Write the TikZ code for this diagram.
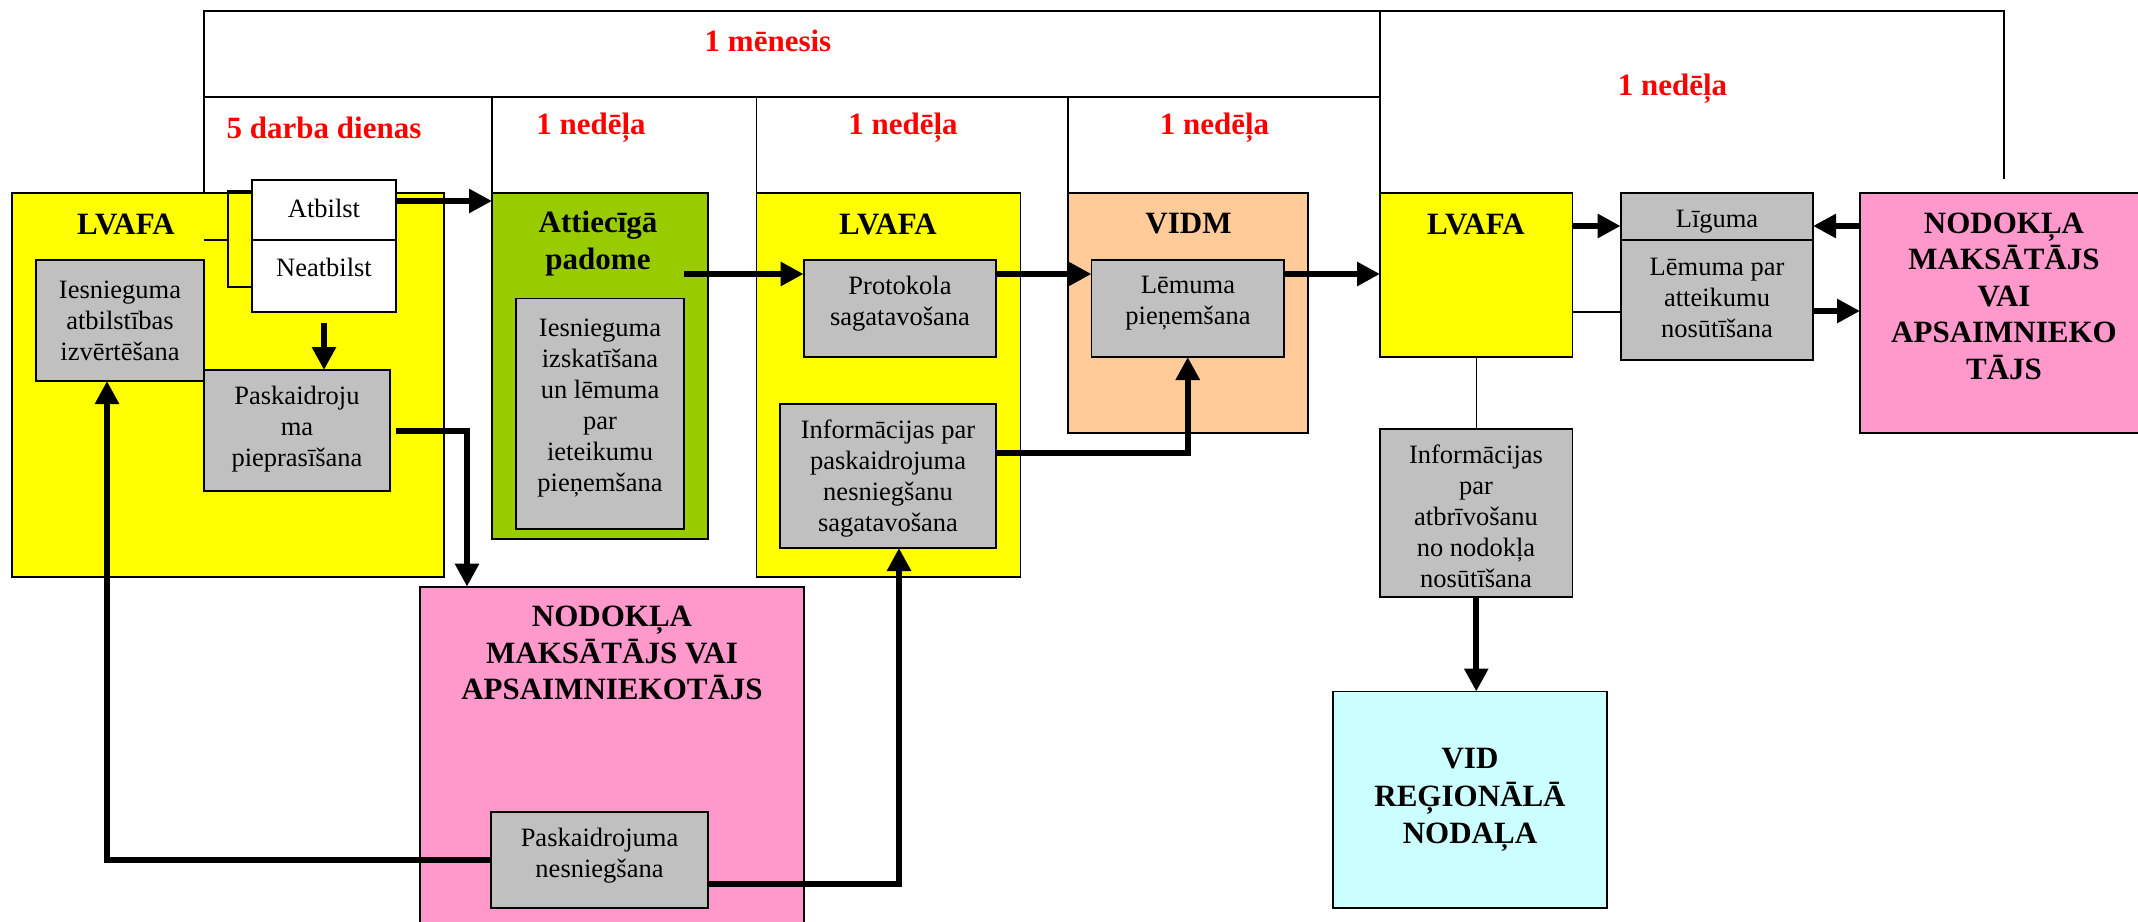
\documentclass[tikz,border=0pt]{standalone}
\usepackage{fontspec}
\setmainfont{Liberation Serif}
\usetikzlibrary{arrows.meta}
\definecolor{cyel}{HTML}{FFFF00}
\definecolor{cgreen}{HTML}{99CC00}
\definecolor{corange}{HTML}{FFCC99}
\definecolor{cpink}{HTML}{FF99CC}
\definecolor{ccyan}{HTML}{CCFFFF}
\definecolor{cgray}{HTML}{C0C0C0}
\definecolor{cred}{HTML}{FF0000}
\begin{document}
\begin{tikzpicture}[x=1pt,y=-1pt,
  box/.style={draw=black, line width=1.8pt, inner sep=0pt, outer sep=0pt},
  txt/.style={align=center, inner sep=0pt, font=\fontsize{26.5}{31}\selectfont},
  hdr/.style={align=center, inner sep=0pt, font=\fontsize{31}{37}\selectfont\bfseries},
  redlbl/.style={hdr, text=cred},
  arr/.style={line width=6pt, -{Triangle[length=23pt,width=23pt]}},
  thinln/.style={line width=1.5pt}]
\useasboundingbox (0,0) rectangle (2138,921);
\clip (0,0) rectangle (2138,921);
% timeline frame
\draw[thinln] (204,193) -- (204,11) -- (2004,11) -- (2004,179);
\draw[thinln] (1380,11) -- (1380,193);
\draw[thinln] (204,97) -- (1380,97);
\draw[thinln] (492,97) -- (492,193);
\draw[thinln] (756.5,97) -- (756.5,193);
\draw[thinln] (1068,97) -- (1068,193);
\node[redlbl] (l0) at (768,41) {1 mēnesis};
\node[redlbl] (l1) at (324,127.5) {5 darba dienas};
\node[redlbl] (l2) at (591,127.5) {1 nedēļa};
\node[redlbl] (l3) at (903,127.5) {1 nedēļa};
\node[redlbl] (l4) at (1214.5,127.5) {1 nedēļa};
\node[redlbl] (l5) at (1672.5,89) {1 nedēļa};
% boxes
\node[box, fill=cyel, minimum width=432pt, minimum height=384pt] (lv1) at (228,385) {};
\node[box, fill=cgray, minimum width=168pt, minimum height=121pt] (ies1) at (120,320.5) {};
\draw[thinln] (204,240) -- (228,240);
\draw[line width=1.8pt] (252,191) -- (228,191) -- (228,287) -- (252,287);
\node[box, fill=white, minimum width=144pt, minimum height=60pt] (atb) at (324,210) {};
\node[box, fill=white, minimum width=144pt, minimum height=72pt] (neat) at (324,276) {};
\node[box, fill=cgray, minimum width=186pt, minimum height=121pt] (pask) at (297,430.5) {};
\node[box, fill=cgreen, minimum width=216pt, minimum height=346pt] (pad) at (600,366) {};
\node[box, fill=cgray, minimum width=168pt, minimum height=230.5pt] (ies2) at (600,413.75) {};
\node[box, fill=cyel, minimum width=264pt, minimum height=384pt] (lv2) at (888.5,385) {};
\node[box, fill=cgray, minimum width=192.4pt, minimum height=97pt] (prot) at (899.8,308.5) {};
\node[box, fill=cgray, minimum width=216pt, minimum height=144pt] (inf1) at (888,476) {};
\node[box, fill=corange, minimum width=240pt, minimum height=240pt] (vidm) at (1188,313) {};
\node[box, fill=cgray, minimum width=192.5pt, minimum height=97pt] (lem) at (1187.75,308.5) {};
\node[box, fill=cyel, minimum width=192.5pt, minimum height=164pt] (lv3) at (1476.25,275) {};
\node[box, fill=cgray, minimum width=192.4pt, minimum height=47pt] (lig) at (1716.8,216.5) {};
\node[box, fill=cgray, minimum width=192.4pt, minimum height=120pt] (lematt) at (1716.8,300) {};
\node[box, fill=cpink, minimum width=290pt, minimum height=240pt] (pink2) at (2005,313) {};
\node[box, fill=cgray, minimum width=192.5pt, minimum height=168.4pt] (inf2) at (1476.25,512.8) {};
\node[box, fill=ccyan, minimum width=274pt, minimum height=216.5pt] (vid) at (1470,799.75) {};
\node[box, fill=cpink, minimum width=384pt, minimum height=348.4pt] (pink1) at (612,760.8) {};
\node[box, fill=cgray, minimum width=217pt, minimum height=96pt] (pne) at (599.5,860) {};
% texts
\node[hdr] (tlv1) at (126,224) {LVAFA};
\node[txt] (tatb) at (324,208) {Atbilst};
\node[txt] (tneat) at (324,267) {Neatbilst};
\node[txt] (ties1) at (120,321) {Iesnieguma\\atbilstības\\izvērtēšana};
\node[txt] (tpask) at (297,429) {Paskaidroju\\ma\\pieprasīšana};
\node[hdr] (tpad) at (598,244) {Attiecīgā\\padome};
\node[txt] (ties2) at (600,408) {Iesnieguma\\izskatīšana\\un lēmuma\\par\\ieteikumu\\pieņemšana};
\node[hdr] (tlv2) at (888,224) {LVAFA};
\node[txt] (tprot) at (900,303.5) {Protokola\\sagatavošana};
\node[txt] (tinf1) at (888,479) {Informācijas par\\paskaidrojuma\\nesniegšanu\\sagatavošana};
\node[hdr] (tvidm) at (1188.5,224) {VIDM};
\node[txt] (tlem) at (1188,303.5) {Lēmuma\\pieņemšana};
\node[hdr] (tlv3) at (1476,224) {LVAFA};
\node[txt] (tlig) at (1717,222) {Līguma};
\node[txt] (tlematt) at (1717,297.5) {Lēmuma par\\atteikumu\\nosūtīšana};
\node[hdr, font=\fontsize{31}{36.5}\selectfont\bfseries] (tpink2) at (2004,296) {NODOKĻA\\MAKSĀTĀJS\\VAI\\APSAIMNIEKO\\TĀJS};
\node[txt] (tinf2) at (1476,516) {Informācijas\\par\\atbrīvošanu\\no nodokļa\\nosūtīšana};
\node[hdr, font=\fontsize{31}{37.5}\selectfont\bfseries] (tvid) at (1470,800) {VID\\REĢIONĀLĀ\\NODAĻA};
\node[hdr, font=\fontsize{31}{36.5}\selectfont\bfseries] (tpink1) at (612,653) {NODOKĻA\\MAKSĀTĀJS VAI\\APSAIMNIEKOTĀJS};
\node[txt] (tpne) at (599.5,856) {Paskaidrojuma\\nesniegšana};
% connectors
\coordinate (a1) at ([yshift=9pt]atb.east);
\draw[arr] (a1) -- (a1 -| pad.west);
\draw[arr] ([yshift=-11pt]neat.south) -- (neat.south |- pask.north);
\draw[arr] ([xshift=6pt]pask.east) -| ([xshift=47pt]pink1.north west);
\draw[arr] (pne.west) -| ([xshift=-13pt]ies1.south);
\draw[arr] ([yshift=-24pt]pne.east) -| ([xshift=11pt]inf1.south);
\coordinate (a6) at ([yshift=34.5pt]prot.west);
\draw[arr] (a6 -| ies2.east) -- (a6);
\coordinate (a7) at ([yshift=34.5pt]prot.east);
\draw[arr] (a7) -- (a7 -| lem.west);
\coordinate (a8) at ([yshift=34.5pt]lem.east);
\draw[arr] (a8) -- (a8 -| lv3.west);
\draw[arr] ([yshift=23pt]inf1.east) -| (lem.south);
\coordinate (a10) at ([yshift=-9.5pt]lig.west);
\draw[arr] (a10 -| lv3.east) -- (a10);
\coordinate (a11) at ([yshift=-9.5pt]lig.east);
\draw[arr] (a11 -| pink2.west) -- (a11);
\coordinate (a12) at ([yshift=-11pt]lematt.east);
\draw[arr] (a12) -- (a12 -| pink2.west);
\draw[arr] (inf2.south) -- (inf2.south |- vid.north);
\draw[thinln] (lv3.south) -- (inf2.north);
\coordinate (a15) at ([yshift=-37pt]lv3.east);
\draw[thinln] (a15) -- (a15 -| lematt.west);
\end{tikzpicture}
\end{document}
